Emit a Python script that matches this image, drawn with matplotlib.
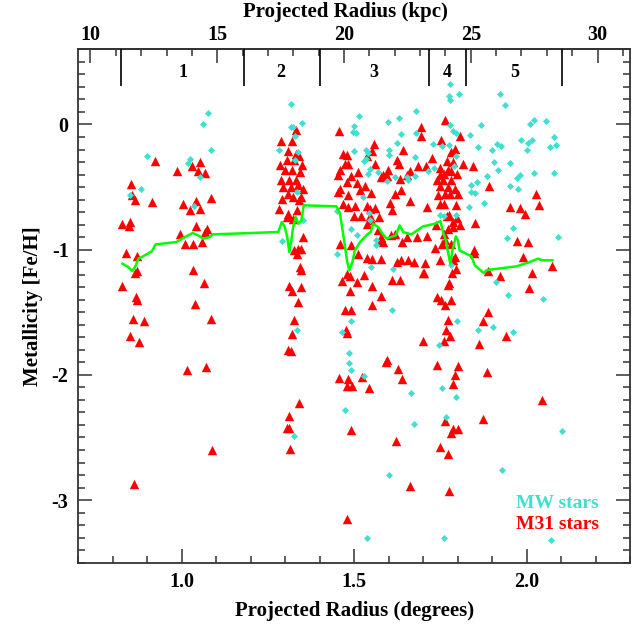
import matplotlib
matplotlib.use("Agg")
import matplotlib.pyplot as plt
from matplotlib.ticker import MultipleLocator, FixedLocator, FormatStrFormatter

plt.rcParams['font.family'] = ['Liberation Serif', 'DejaVu Serif']
plt.rcParams['font.weight'] = 'bold'
plt.rcParams['axes.unicode_minus'] = False

# Conversion from projected radius in degrees to kpc
KPC_PER_DEG = 13.6

# M31 member stars: projected radius (deg) and [Fe/H]
m31_pts = [
    (0.922, -0.295), (0.853, -0.473), (0.855, -0.561), (0.864, -0.601), (0.914, -0.62),
    (0.828, -0.798), (0.85, -0.78), (0.847, -0.81), (0.837, -1.027), (0.871, -1.048),
    (0.864, -1.187), (0.869, -1.171), (0.828, -1.293), (0.868, -1.378), (0.871, -1.405),
    (0.858, -1.556), (0.891, -1.572), (0.85, -1.692), (0.875, -1.737), (0.861, -2.87),
    (0.985, -0.373), (1.030, -0.33), (1.053, -0.303), (1.048, -0.373), (1.067, -0.386),
    (1.085, -0.588), (1.004, -0.638), (1.024, -0.681), (1.040, -0.612), (1.053, -0.673),
    (1.041, -0.81), (0.995, -0.878), (1.072, -0.838), (1.068, -0.86), (1.01, -0.958),
    (1.032, -0.958), (1.059, -0.939), (1.033, -1.16), (1.064, -1.266), (1.038, -1.437),
    (1.084, -1.554), (1.016, -1.963), (1.07, -1.937), (1.087, -2.60),
    (1.330, -0.048), (1.288, -0.133), (1.320, -0.133), (1.309, -0.215), (1.331, -0.234),
    (1.285, -0.322), (1.304, -0.287), (1.326, -0.282), (1.341, -0.255), (1.350, -0.322),
    (1.299, -0.367), (1.321, -0.367), (1.343, -0.38), (1.287, -0.447), (1.312, -0.447),
    (1.331, -0.447), (1.294, -0.50), (1.317, -0.50), (1.336, -0.487), (1.352, -0.513),
    (1.308, -0.553), (1.323, -0.58), (1.347, -0.58), (1.290, -0.593), (1.341, -0.607),
    (1.283, -0.673), (1.307, -0.713), (1.333, -0.686), (1.304, -0.74), (1.323, -0.753),
    (1.352, -0.90), (1.347, -0.992), (1.338, -0.992), (1.325, -1.0), (1.333, -1.032),
    (1.343, -1.139), (1.347, -1.16), (1.310, -1.293), (1.321, -1.33), (1.347, -1.298),
    (1.338, -1.418), (1.326, -1.559), (1.320, -1.67), (1.309, -1.804), (1.317, -1.81),
    (1.339, -2.224), (1.311, -2.33), (1.304, -2.424), (1.31, -2.424), (1.314, -2.594),
    (1.457, -0.053), (1.468, -0.234), (1.48, -0.247), (1.473, -0.314), (1.483, -0.314),
    (1.459, -0.362), (1.454, -0.407), (1.492, -0.415), (1.512, -0.38), (1.478, -0.46),
    (1.507, -0.468), (1.459, -0.513), (1.454, -0.54), (1.483, -0.567), (1.531, -0.495),
    (1.517, -0.527), (1.55, -0.548), (1.468, -0.633), (1.483, -0.66), (1.502, -0.654),
    (1.536, -0.654), (1.56, -0.668), (1.546, -0.673), (1.5, -0.734), (1.521, -0.734),
    (1.546, -0.734), (1.572, -0.74), (1.538, -0.793), (1.558, -0.154), (1.553, -0.215),
    (1.536, -0.255), (1.56, -0.314), (1.584, -0.407), (1.594, -0.412), (1.579, -0.42),
    (1.599, -0.367), (1.623, -0.287), (1.631, -0.314), (1.642, -0.207), (1.632, -0.439),
    (1.637, -0.527), (1.618, -0.559), (1.605, -0.628), (1.610, -0.681), (1.661, -0.615),
    (1.695, -0.021), (1.695, -0.096), (1.652, -0.407), (1.663, -0.373), (1.686, -0.335),
    (1.708, -0.335), (1.726, -0.266), (1.712, -0.66), (1.681, -0.899), (1.652, -0.899),
    (1.640, -0.939), (1.608, -0.886), (1.618, -0.872), (1.579, -0.926), (1.584, -0.939),
    (1.577, -0.899), (1.570, -0.846), (1.550, -0.766), (1.459, -0.952), (1.492, -0.966),
    (1.512, -1.032), (1.536, -1.067), (1.552, -1.072), (1.579, -1.077), (1.623, -1.099),
    (1.637, -1.085), (1.657, -1.080), (1.673, -1.099), (1.700, -1.187), (1.611, -1.245),
    (1.632, -1.245), (1.488, -1.213), (1.48, -1.192), (1.466, -1.253), (1.507, -1.259),
    (1.488, -1.330), (1.529, -1.2), (1.552, -1.29), (1.577, -1.373), (1.553, -1.445),
    (1.473, -1.484), (1.49, -1.484), (1.475, -1.639), (1.48, -1.666), (1.594, -1.883),
    (1.591, -1.897), (1.626, -1.95), (1.70, -1.729), (1.457, -2.025), (1.524, -2.017),
    (1.640, -2.03), (1.483, -2.03), (1.48, -2.091), (1.493, -2.088), (1.543, -2.101),
    (1.49, -2.442), (1.620, -2.527), (1.663, -2.889), (1.48, -3.152),
    (1.763, 0.037), (1.753, -0.122), (1.806, -0.096), (1.792, -0.194), (1.782, -0.221),
    (1.768, -0.293), (1.787, -0.301), (1.816, -0.314), (1.845, -0.335), (1.750, -0.346),
    (1.773, -0.367), (1.782, -0.373), (1.749, -0.407), (1.761, -0.394), (1.799, -0.399),
    (1.739, -0.447), (1.758, -0.447), (1.782, -0.447), (1.75, -0.495), (1.773, -0.50),
    (1.792, -0.513), (1.744, -0.567), (1.763, -0.559), (1.777, -0.553), (1.801, -0.553),
    (1.749, -0.633), (1.761, -0.633), (1.795, -0.646), (1.770, -0.734), (1.775, -0.726),
    (1.799, -0.745), (1.787, -0.78), (1.808, -0.806), (1.850, -0.788), (1.737, -0.806),
    (1.773, -0.833), (1.787, -0.82), (1.761, -0.878), (1.71, -0.894), (1.763, -0.92),
    (1.782, -0.952), (1.756, -0.958), (1.734, -0.984), (1.750, -1.08), (1.792, -1.059),
    (1.787, -1.085), (1.848, -1.006), (1.847, -1.027), (1.705, -1.107), (1.702, -1.184),
    (1.784, -1.187), (1.794, -1.152), (1.775, -1.266), (1.773, -1.285), (1.741, -1.378),
    (1.753, -1.405), (1.763, -1.439), (1.782, -1.405), (1.771, -1.559), (1.766, -1.639),
    (1.777, -1.692), (1.761, -1.729), (1.741, -1.918), (1.802, -1.931), (1.792, -1.998),
    (1.788, -2.069), (1.763, -2.368), (1.787, -2.429), (1.780, -2.464), (1.801, -2.429),
    (1.750, -2.575), (1.771, -2.634), (1.775, -2.926),
    (1.890, -0.495), (2.026, -0.559), (2.035, -0.646), (1.953, -0.66), (1.980, -0.668),
    (1.995, -0.713), (1.972, -0.934), (2.004, -0.939), (1.990, -1.059), (1.888, -1.171),
    (1.924, -1.213), (2.017, -1.184), (2.075, -1.133), (2.006, -1.303), (1.888, -1.498),
    (1.874, -1.570), (1.862, -1.756), (1.940, -1.689), (1.884, -1.977), (2.045, -2.203),
    (1.874, -2.354),
]
m31_deg = [p[0] for p in m31_pts]
m31_feh = [p[1] for p in m31_pts]

# Milky Way foreground stars
mw_pts = [
    (1.075, 0.093), (1.062, 0.0), (1.086, -0.202), (0.900, -0.253), (1.024, -0.277),
    (1.019, -0.306), (1.054, -0.417), (0.883, -0.513), (1.036, -0.652), (0.85, -0.56),
    (1.282, -0.202), (1.335, -1.639), (1.327, -2.49), (1.316, 0.165), (1.316, -0.02),
    (1.323, -0.02), (1.349, 0.013), (1.328, -0.096), (1.338, -0.221), (1.328, -0.287),
    (1.333, -0.54), (1.352, -0.766), (1.292, -0.931),
    (1.514, 0.066), (1.500, -0.016), (1.497, -0.061), (1.504, -0.069), (1.597, 0.019),
    (1.630, 0.053), (1.679, 0.104), (1.637, -0.075), (1.678, -0.069), (1.625, -0.149),
    (1.500, -0.215), (1.534, -0.207), (1.539, -0.229), (1.529, -0.295), (1.534, -0.274),
    (1.601, -0.207), (1.601, -0.247), (1.676, -0.261), (1.546, -0.354), (1.568, -0.38),
    (1.594, -0.455), (1.618, -0.42), (1.652, -0.42), (1.657, -0.447), (1.676, -0.415),
    (1.541, -0.394), (1.526, -0.58), (1.451, -0.692), (1.543, -0.708), (1.546, -0.766),
    (1.492, -0.833), (1.507, -0.886), (1.563, -0.92), (1.563, -0.966), (1.451, -1.037),
    (1.613, -1.152), (1.548, -1.139),
    (1.779, 0.325), (1.775, 0.226), (1.779, 0.192), (1.804, 0.245), (1.924, 0.245),
    (1.938, 0.152), (1.779, -0.002), (1.867, -0.008), (1.787, -0.053), (1.794, -0.066),
    (1.837, -0.088), (1.729, -0.154), (1.756, -0.176), (1.775, -0.162), (1.859, -0.181),
    (1.901, -0.2), (1.913, -0.154), (1.927, -0.176), (2.009, 0.0), (2.021, 0.032),
    (2.055, 0.027), (1.985, -0.122), (2.004, -0.146), (2.016, -0.128), (2.001, -0.202),
    (2.067, -0.181), (2.080, -0.101), (2.084, -0.162), (1.795, -0.255), (1.905, -0.301),
    (1.951, -0.309), (1.789, -0.335), (1.731, -0.346), (1.713, -0.373), (1.916, -0.367),
    (2.022, -0.389), (2.079, -0.389), (1.884, -0.415), (1.982, -0.407), (1.973, -0.428),
    (1.855, -0.46), (1.838, -0.487), (1.840, -0.54), (1.850, -0.545), (1.953, -0.495),
    (1.976, -0.513), (1.877, -0.628), (1.834, -0.66), (1.749, -0.726), (1.761, -0.734),
    (1.795, -0.72), (1.961, -0.828), (1.942, -0.904), (2.091, -0.899), (1.782, -1.125),
    (1.911, -1.259), (1.946, -1.359), (2.048, -1.397), (1.611, -1.479), (1.49, -1.570),
    (1.466, -1.657), (1.797, -1.570), (1.859, -1.639), (1.903, -1.618), (1.961, -1.657),
    (1.746, -1.758), (1.485, -1.825), (1.485, -1.905), (1.49, -1.963), (1.529, -2.011),
    (1.664, -2.141), (1.755, -2.101), (1.795, -2.176), (1.473, -2.283), (1.766, -2.336),
    (1.674, -2.394), (2.104, -2.450), (1.930, -2.756), (1.601, -2.796), (1.536, -3.306),
    (1.761, -3.306), (2.072, -3.320),
]
mw_deg = [p[0] for p in mw_pts]
mw_feh = [p[1] for p in mw_pts]

# Running median of the M31 metallicities
median_deg = [0.828, 0.845, 0.857, 0.867, 0.874, 0.888, 0.914, 0.924, 0.985, 1.009,
              1.032, 1.048, 1.062, 1.082, 1.090, 1.280, 1.29, 1.299, 1.306, 1.312,
              1.318, 1.323, 1.331, 1.338, 1.347, 1.354, 1.449, 1.459, 1.468, 1.480,
              1.486, 1.495, 1.502, 1.517, 1.538, 1.548, 1.555, 1.570, 1.582, 1.594,
              1.621, 1.632, 1.642, 1.666, 1.700, 1.734, 1.750, 1.758, 1.766, 1.773,
              1.779, 1.785, 1.795, 1.801, 1.806, 1.840, 1.850, 1.876, 1.884, 1.893,
              1.971, 2.009, 2.033, 2.046, 2.075]
median_feh = [-1.112, -1.139, -1.171, -1.125, -1.072, -1.053, -1.011, -0.958, -0.939, -0.899,
              -0.867, -0.886, -0.912, -0.899, -0.878, -0.859, -0.78, -0.82, -0.899, -1.019,
              -0.926, -0.82, -0.74, -0.793, -0.766, -0.646, -0.654, -0.713, -0.872, -1.099,
              -1.165, -1.099, -1.006, -0.939, -0.878, -0.859, -0.793, -0.82, -0.872, -0.912,
              -0.886, -0.806, -0.859, -0.878, -0.814, -0.793, -0.772, -0.859, -0.926, -1.032,
              -1.112, -1.006, -0.894, -0.926, -1.006, -1.053, -1.125, -1.187, -1.165, -1.160,
              -1.133, -1.099, -1.072, -1.085, -1.085]

# Field boundaries and field labels
field_edges = [0.824, 1.181, 1.400, 1.717, 1.824, 2.102]
field_names = ['1', '2', '3', '4', '5']
field_label_deg = [1.005, 1.288, 1.557, 1.769, 1.965]

# Top-axis (kpc) tick values
kpc_major = [10, 15, 20, 25, 30]
kpc_minor = list(range(10, 32))

fig = plt.figure(figsize=(6.37, 6.26), dpi=100)
ax = fig.add_axes([0.1229, 0.1011, 0.989 - 0.1229, 0.9212 - 0.1011])

ax.scatter(m31_deg, m31_feh, marker='^', s=46, color='#ff0000', linewidths=0, zorder=3)
ax.scatter(mw_deg, mw_feh, marker='D', s=13, color='#40e0d0', linewidths=0, zorder=4)
ax.plot(median_deg, median_feh, color='#00ff00', lw=1.8, zorder=5)

ax.set_xlim(0.7, 2.3)
ax.set_ylim(-3.5, 0.6)

ax.vlines(field_edges, 0.311, 0.6, color='black', lw=1.2, zorder=6)
for xd, name in zip(field_label_deg, field_names):
    ax.text(xd, 0.415, name, ha='center', va='center', fontsize=13, fontweight='bold')

ax.text(0.869, 0.1144, 'MW stars', transform=ax.transAxes, color='#40e0d0',
        fontsize=14, fontweight='bold', ha='center', va='center')
ax.text(0.869, 0.0741, 'M31 stars', transform=ax.transAxes, color='#ff0000',
        fontsize=14, fontweight='bold', ha='center', va='center')

ax.xaxis.set_major_locator(MultipleLocator(0.5))
ax.xaxis.set_minor_locator(MultipleLocator(0.1))
ax.xaxis.set_major_formatter(FormatStrFormatter('%.1f'))
ax.yaxis.set_major_locator(MultipleLocator(1))
ax.yaxis.set_minor_locator(MultipleLocator(0.1))
ax.yaxis.set_major_formatter(FormatStrFormatter('%d'))
ax.tick_params(which='both', direction='in', top=False, right=True, width=1.1,
               color='#333333', labelsize=14.5)
ax.tick_params(which='major', length=10, pad=7)
ax.tick_params(which='minor', length=5)
for sp in ax.spines.values():
    sp.set_linewidth(1.3)
    sp.set_color('#333333')

ax.set_xlabel('Projected Radius (degrees)', fontsize=15, fontweight='bold', labelpad=6)
ax.set_ylabel('Metallicity [Fe/H]', fontsize=15, fontweight='bold', labelpad=6)

top = ax.secondary_xaxis('top', functions=(lambda d: d * KPC_PER_DEG,
                                          lambda k: k / KPC_PER_DEG))
top.xaxis.set_major_locator(FixedLocator(kpc_major))
top.xaxis.set_minor_locator(FixedLocator(kpc_minor))
top.xaxis.set_major_formatter(FormatStrFormatter('%d'))
top.tick_params(which='both', direction='in', width=1.1, color='#333333', labelsize=14.5)
top.tick_params(which='major', length=10, pad=3)
top.tick_params(which='minor', length=5)
top.spines['top'].set_linewidth(1.3)
top.spines['top'].set_color('#333333')

fig.text(345 / 637, 1 - 12 / 626, 'Projected Radius (kpc)', ha='center', va='center',
         fontsize=15, fontweight='bold')

fig.savefig('out.png', dpi=100)
